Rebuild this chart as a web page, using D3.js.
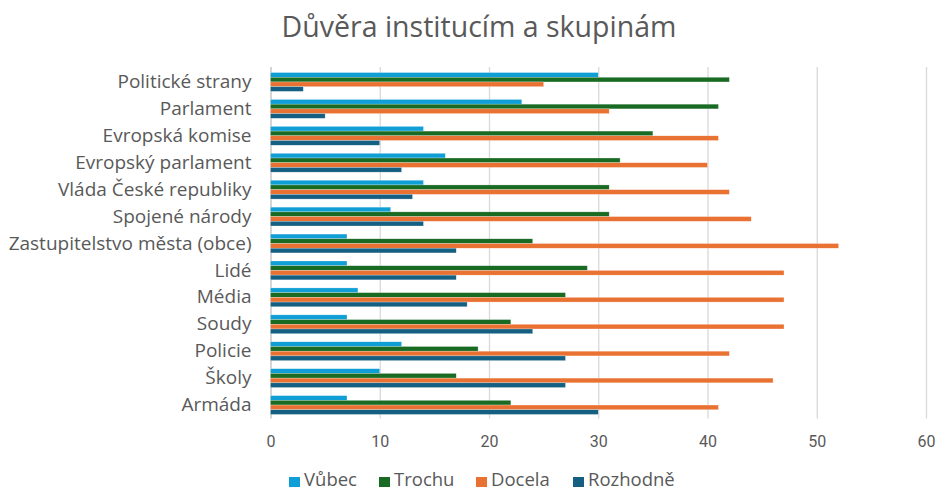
<!DOCTYPE html>
<html>
<head>
<meta charset="utf-8">
<script src="https://cdn.jsdelivr.net/npm/d3@7/dist/d3.min.js"></script>
<style>
  html, body { margin: 0; padding: 0; background: #fff; }
  svg { display: block; }
  text { font-family: "Open Sans", sans-serif; fill: #595959; }
</style>
</head>
<body>
<svg id="chart" width="938" height="492"></svg>
<script>
const categories = ["Politické strany", "Parlament", "Evropská komise", "Evropský parlament",
  "Vláda České republiky", "Spojené národy", "Zastupitelstvo města (obce)", "Lidé",
  "Média", "Soudy", "Policie", "Školy", "Armáda"];
const seriesNames = ["Vůbec", "Trochu", "Docela", "Rozhodně"];
const vubec    = [30, 23, 14, 16, 14, 11, 7, 7, 8, 7, 12, 10, 7];
const trochu   = [42, 41, 35, 32, 31, 31, 24, 29, 27, 22, 19, 17, 22];
const docela   = [25, 31, 41, 40, 42, 44, 52, 47, 47, 47, 42, 46, 41];
const rozhodne = [3, 5, 10, 12, 13, 14, 17, 17, 18, 24, 27, 27, 30];
const seriesValues = [vubec, trochu, docela, rozhodne];
const colors = ["#0F9ED5", "#196B24", "#E97132", "#156082"];
const xTicks = [0, 10, 20, 30, 40, 50, 60];
const title = "Důvěra institucím a skupinám";

const svg = d3.select("#chart");

const x = d3.scaleLinear().domain([0, 60]).range([270.5, 926]);
const y = d3.scaleBand().domain(categories).range([68.5, 418.5]).paddingInner(0.3).paddingOuter(0.15);
const ySub = d3.scaleBand().domain(seriesNames).range([0, y.bandwidth()]);

// title
svg.append("text").attr("x", 479).attr("y", 37).attr("text-anchor", "middle")
  .style("font-size", "28.5px").text(title);

// gridlines + x tick labels
const xAxis = d3.axisBottom(x).tickValues(xTicks).tickSize(-(418.5 - 67)).tickFormat(d3.format("d")).tickPadding(17);
const gx = svg.append("g").attr("transform", "translate(0,418.5)").call(xAxis);
gx.select(".domain").remove();
gx.selectAll(".tick line").attr("stroke", "#d9d9d9").attr("stroke-width", 1.3);
gx.selectAll(".tick").filter(d => d === 0).select("line").attr("stroke", "#bfbfbf");
gx.selectAll(".tick text").style("font-size", "16px").style("font-family", "Roboto, sans-serif").attr("fill", "#595959");

// category axis
const yAxis = d3.axisLeft(y).tickSize(0).tickPadding(19);
const gy = svg.append("g").attr("transform", "translate(270.5,0)").call(yAxis);
gy.select(".domain").remove();
gy.selectAll(".tick text").style("font-size", "19px").attr("fill", "#595959");

// bars
const groups = svg.append("g").selectAll("g").data(seriesNames).join("g")
  .attr("fill", (d, i) => colors[i]);
groups.each(function(s, si) {
  d3.select(this).selectAll("rect").data(categories).join("rect")
    .attr("x", x(0))
    .attr("y", c => y(c) + ySub(s))
    .attr("height", ySub.bandwidth())
    .attr("width", (c, ci) => x(seriesValues[si][ci]) - x(0))
    .attr("stroke", "#ffffff").attr("stroke-opacity", 0.5).attr("stroke-width", 0.5);
});

// legend
const legendItems = [
  {name: seriesNames[0], x: 289},
  {name: seriesNames[1], x: 379},
  {name: seriesNames[2], x: 476},
  {name: seriesNames[3], x: 573}
];
const lg = svg.append("g").selectAll("g").data(legendItems).join("g")
  .attr("transform", d => `translate(${d.x},0)`);
lg.append("rect").attr("x", 0).attr("y", 477).attr("width", 11).attr("height", 10)
  .attr("fill", (d, i) => colors[i]);
lg.append("text").attr("x", 15).attr("y", 486).style("font-size", "18.5px").text(d => d.name);
</script>
</body>
</html>
